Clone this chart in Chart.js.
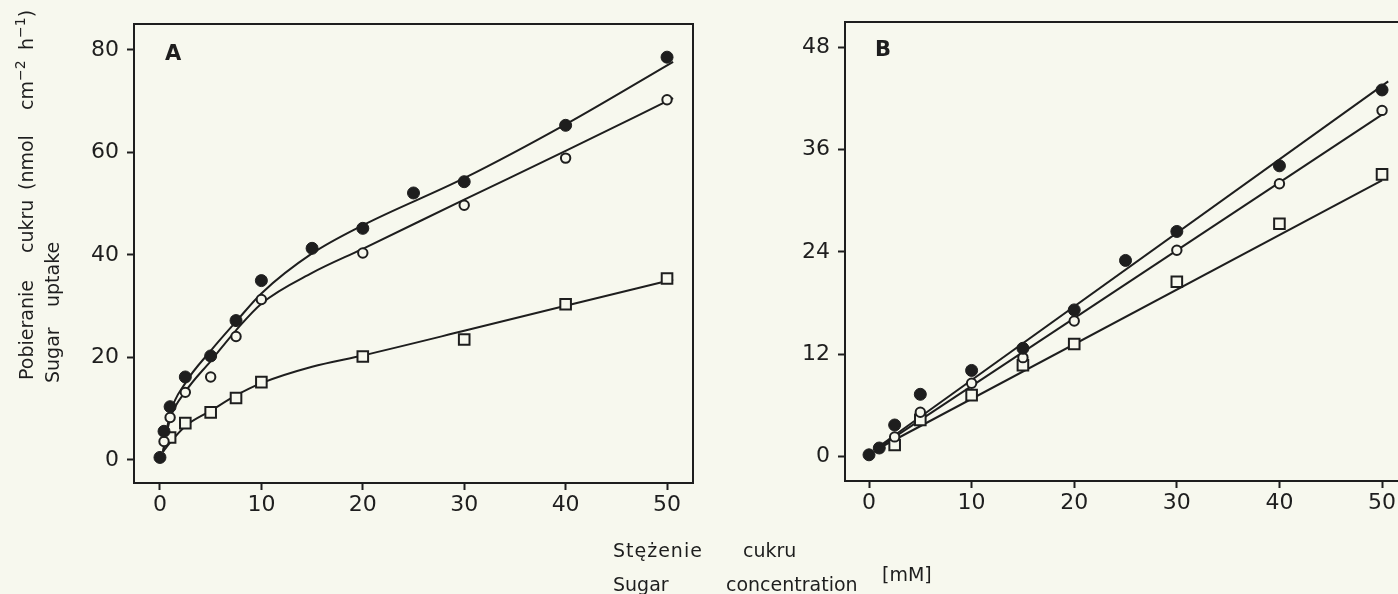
<!DOCTYPE html>
<html>
<head>
<meta charset="utf-8">
<script src="https://cdn.jsdelivr.net/npm/chart.js@4.4.0/dist/chart.umd.min.js"></script>
<style>
  html, body { margin: 0; padding: 0; background: #f7f8ee; overflow: hidden; }
  body { position: relative; width: 1398px; height: 594px; font-family: "DejaVu Sans", sans-serif; color: #1e1e1e; }
  canvas { position: absolute; top: 0; }
  .lbl { position: absolute; white-space: nowrap; font-size: 19px; line-height: 22px; }
  .panel { font-weight: bold; font-size: 21px; line-height: 24px; }
  .rot { position: absolute; left: 0; top: 0; width: 400px; height: 70px; transform-origin: 0 0; transform: translate(0px, 400px) rotate(-90deg); }
  sup { font-size: 14px; line-height: 0; vertical-align: 8px; }
</style>
</head>
<body>

<canvas id="chartA" width="710" height="594" style="left:0px"></canvas>
<canvas id="chartB" width="690" height="594" style="left:720px"></canvas>

<div class="lbl panel" style="left:165px; top:41px">A</div>
<div class="lbl panel" style="left:875px; top:37px">B</div>

<div class="rot">
  <span class="lbl" style="left:20px; top:15px">Pobieranie</span>
  <span class="lbl" style="left:147px; top:15px">cukru</span>
  <span class="lbl" style="left:210px; top:15px">(nmol</span>
  <span class="lbl" style="left:290px; top:15px">cm<sup>−2</sup></span>
  <span class="lbl" style="left:350px; top:15px">h<sup>−1</sup>)</span>
  <span class="lbl" style="left:17px; top:41px">Sugar</span>
  <span class="lbl" style="left:93px; top:41px">uptake</span>
</div>

<div class="lbl" style="left:613px; top:539px; letter-spacing:1px">Stężenie</div>
<div class="lbl" style="left:743px; top:539px">cukru</div>
<div class="lbl" style="left:613px; top:573px">Sugar</div>
<div class="lbl" style="left:726px; top:573px">concentration</div>
<div class="lbl" style="left:882px; top:563px">[mM]</div>

<script>
const ink = "#1e1e1e";
const paper = "#f7f8ee";

// panel A: measured points
const xFilledA = [0, 0.4, 1, 2.5, 5, 7.5, 10, 15, 20, 25, 30, 40, 50];
const yFilledA = [0.5, 5.6, 10.4, 16.2, 20.3, 27.2, 35.0, 41.3, 45.2, 52.1, 54.3, 65.3, 78.6];
const xOpenA = [0.4, 1, 2.5, 5, 7.5, 10, 20, 30, 40, 50];
const yOpenA = [3.6, 8.3, 13.2, 16.2, 24.1, 31.3, 40.4, 49.7, 58.9, 70.3];
const xSquareA = [1, 2.5, 5, 7.5, 10, 20, 30, 40, 50];
const ySquareA = [4.4, 7.2, 9.3, 12.1, 15.2, 20.2, 23.5, 30.4, 35.4];

// panel A: fitted curves
const xFitA = [0.3, 1, 2.5, 5, 7.5, 10, 15, 20, 30, 40, 50.6];
const yFitFilledA = [1.6, 9.0, 15.0, 21.3, 27.0, 32.5, 40.3, 45.8, 55.0, 65.5, 77.7];
const yFitOpenA = [1.6, 8.0, 13.3, 19.3, 25.3, 30.5, 36.5, 41.2, 50.8, 60.3, 70.6];
const yFitSquareA = [1.6, 3.4, 6.6, 9.6, 12.6, 15.0, 18.2, 20.4, 25.2, 30.1, 35.2];

// panel B: measured points
const xFilledB = [0, 1, 2.5, 5, 10, 15, 20, 25, 30, 40, 50];
const yFilledB = [0.2, 1.0, 3.7, 7.3, 10.1, 12.7, 17.2, 23.0, 26.4, 34.1, 43.0];
const xOpenB = [2.5, 5, 10, 15, 20, 30, 40, 50];
const yOpenB = [2.3, 5.2, 8.6, 11.6, 15.9, 24.2, 32.0, 40.6];
const xSquareB = [2.5, 5, 10, 15, 20, 30, 40, 50];
const ySquareB = [1.35, 4.3, 7.2, 10.7, 13.2, 20.5, 27.3, 33.1];

// panel B: fitted lines (end points)
const xFitFilledB = [1, 50.6];
const yFitFilledB = [1.2, 44.0];
const xFitOpenB = [1, 50];
const yFitOpenB = [1.1, 40.1];
const xFitSquareB = [1, 50];
const yFitSquareB = [1.0, 32.4];

const xTicksA = [0, 10, 20, 30, 40, 50];
const yTicksA = [0, 20, 40, 60, 80];
const xTicksB = [0, 10, 20, 30, 40, 50];
const yTicksB = [0, 12, 24, 36, 48];

function pts(xs, ys) {
  return xs.map((x, i) => ({ x: x, y: ys[i] }));
}

function fitLine(xs, ys, smooth) {
  return {
    data: pts(xs, ys),
    showLine: true,
    pointRadius: 0,
    borderColor: ink,
    borderWidth: 2,
    tension: smooth ? 0.4 : 0,
    cubicInterpolationMode: smooth ? "monotone" : "default",
    order: 2
  };
}

function marks(xs, ys, kind) {
  const ds = {
    data: pts(xs, ys),
    showLine: false,
    borderColor: ink,
    order: 1
  };
  if (kind === "filled") {
    ds.pointStyle = "circle"; ds.pointRadius = 6; ds.backgroundColor = ink; ds.borderWidth = 1;
  } else if (kind === "open") {
    ds.pointStyle = "circle"; ds.pointRadius = 4.7; ds.backgroundColor = paper; ds.borderWidth = 2;
  } else {
    ds.pointStyle = "rect"; ds.pointRadius = 7.5; ds.backgroundColor = paper; ds.borderWidth = 2;
  }
  return ds;
}

const frame = {
  id: "frame",
  afterDatasetsDraw(chart) {
    const a = chart.chartArea;
    const ctx = chart.ctx;
    ctx.save();
    ctx.strokeStyle = ink;
    ctx.lineWidth = 2;
    ctx.strokeRect(a.left, a.top, a.right - a.left, a.bottom - a.top);
    ctx.restore();
  }
};

function axis(min, max, tickList, isX, size) {
  return {
    type: "linear",
    min: min,
    max: max,
    border: { display: false },
    grid: { display: true, drawOnChartArea: false, drawTicks: true, tickLength: 7, tickWidth: 2, tickColor: ink },
    ticks: {
      color: ink,
      font: { family: "'DejaVu Sans', sans-serif", size: 22 },
      padding: isX ? 2 : 8,
      maxRotation: 0,
      autoSkip: false
    },
    afterBuildTicks(scale) {
      scale.ticks = tickList.map(v => ({ value: v }));
    },
    afterFit(scale) {
      if (isX) scale.height = size; else scale.width = size;
    }
  };
}

function makeChart(id, datasets, xs, ys, padding) {
  return new Chart(document.getElementById(id).getContext("2d"), {
    type: "scatter",
    data: { datasets: datasets },
    options: {
      responsive: false,
      animation: false,
      layout: { padding: padding },
      plugins: { legend: { display: false }, tooltip: { enabled: false } },
      scales: { x: xs, y: ys }
    },
    plugins: [frame]
  });
}

makeChart("chartA", [
  marks(xFilledA, yFilledA, "filled"),
  marks(xOpenA, yOpenA, "open"),
  marks(xSquareA, ySquareA, "square"),
  fitLine(xFitA, yFitFilledA, true),
  fitLine(xFitA, yFitOpenA, true),
  fitLine(xFitA, yFitSquareA, true)
],
  axis(-2.56, 52.56, xTicksA, true, 47),
  axis(-4.49, 85.07, yTicksA, false, 64),
  { left: 70, top: 24, right: 17, bottom: 64 });

makeChart("chartB", [
  marks(xFilledB, yFilledB, "filled"),
  marks(xOpenB, yOpenB, "open"),
  marks(xSquareB, ySquareB, "square"),
  fitLine(xFitFilledB, yFitFilledB, false),
  fitLine(xFitOpenB, yFitOpenB, false),
  fitLine(xFitSquareB, yFitSquareB, false)
],
  axis(-2.34, 51.75, xTicksB, true, 47),
  axis(-2.87, 50.97, yTicksB, false, 64),
  { left: 61, top: 22, right: 10, bottom: 66 });
</script>
</body>
</html>
